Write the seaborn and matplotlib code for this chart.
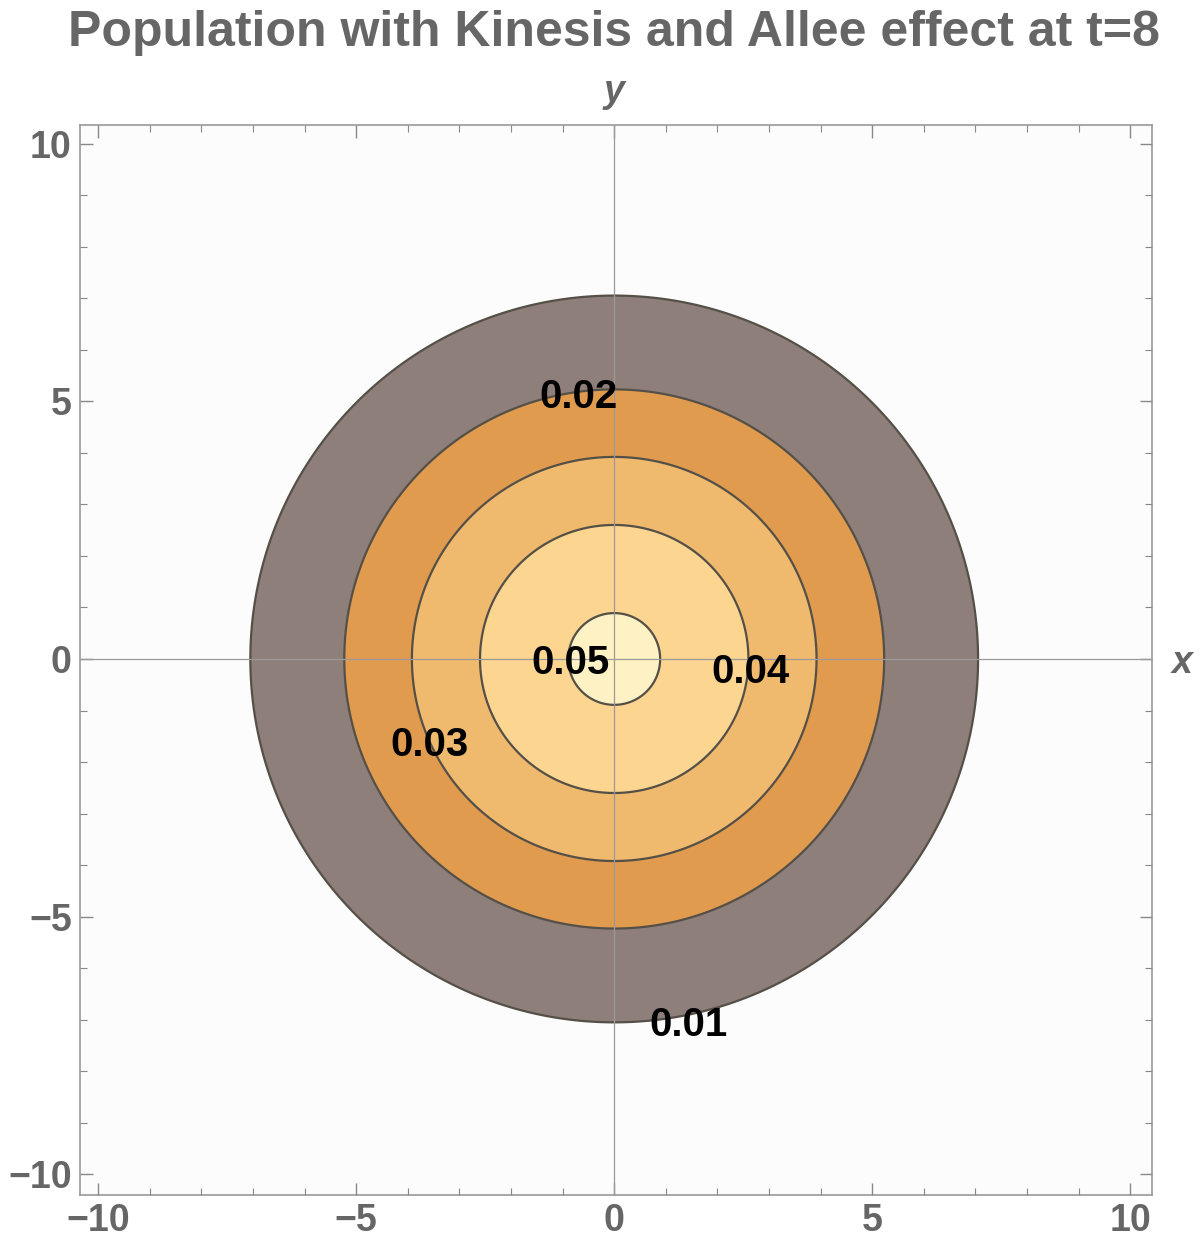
import numpy as np
import seaborn as sns
import matplotlib.pyplot as plt
from matplotlib.ticker import MultipleLocator

# contour levels (population density) and the radius where each one sits
levels = [0.01, 0.02, 0.03, 0.04, 0.05]
radii = [7.05, 5.23, 3.92, 2.60, 0.89]
band_colors = ["#fcfcfc", "#8f7f7a", "#e09b4f", "#efb96e", "#fcd591", "#fef2c4"]
label_spots = [(1.43, -7.1), (-0.7, 5.08), (-3.57, -1.66), (2.64, -0.26), (-0.85, -0.07)]
ticks = [-10, -5, 0, 5, 10]

sns.set_theme(style="white")
plt.rcParams["font.family"] = ["Liberation Sans", "DejaVu Sans"]
grey = "#666666"

fig = plt.figure(figsize=(12, 12.55), dpi=100)
ax = fig.add_axes([0.0667, 0.0478, 0.8933, 0.8526])
ax.set_axisbelow(False)

g = np.linspace(-10.5, 10.5, 601)
X, Y = np.meshgrid(g, g)
R = np.hypot(X, Y)

# the field is distance from the origin, so bands go from the centre outwards
r_levels = [0.0] + radii[::-1] + [20.0]
fill_cols = band_colors[::-1]
ax.contourf(X, Y, R, levels=r_levels, colors=fill_cols)
ax.contour(X, Y, R, levels=radii[::-1], colors="#555047", linewidths=1.6)

ax.axhline(0, color="#9a9a9a", lw=0.9, zorder=3)
ax.axvline(0, color="#9a9a9a", lw=0.9, zorder=3)

for v, (lx, ly) in zip(levels, label_spots):
    ax.text(lx, ly, f"{v:.2f}", ha="center", va="center", fontsize=29,
            fontweight="bold", color="black", zorder=5)

ax.set_xlim(-10.35, 10.42)
ax.set_ylim(-10.4, 10.36)
ax.set_aspect("auto")

ax.set_xticks(ticks)
ax.set_yticks(ticks)
ax.xaxis.set_minor_locator(MultipleLocator(1))
ax.yaxis.set_minor_locator(MultipleLocator(1))
ax.tick_params(which="both", direction="in", bottom=True, left=True, top=True,
               right=True, color="#888888")
ax.tick_params(which="major", length=9, width=1.0, labelsize=27, labelcolor=grey, pad=6)
ax.tick_params(which="minor", length=5, width=0.8)
ax.tick_params(axis="x", which="both", labeltop=False)
ax.tick_params(axis="y", which="both", labelright=False)
for lbl in ax.get_xticklabels() + ax.get_yticklabels():
    lbl.set_fontweight("bold")
for s in ax.spines.values():
    s.set_color("#999999")
    s.set_linewidth(1.2)

fig.text(0.512, 0.974, "Population with Kinesis and Allee effect at t=8",
         ha="center", va="center", fontsize=36, fontweight="bold", color=grey)
fig.text(0.512, 0.927, "y", ha="center", va="center", fontsize=27,
         fontweight="bold", fontstyle="italic", color=grey)
fig.text(0.985, 0.472, "x", ha="center", va="center", fontsize=27,
         fontweight="bold", fontstyle="italic", color=grey)

fig.savefig("out.png", dpi=100, facecolor="white")
